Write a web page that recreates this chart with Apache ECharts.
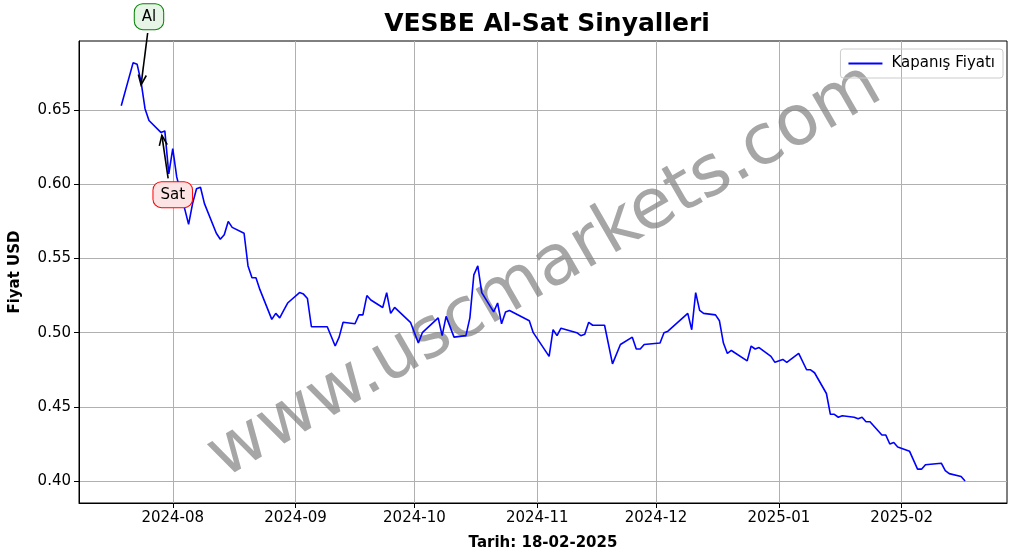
<!DOCTYPE html>
<html>
<head>
<meta charset="utf-8">
<script src="https://cdn.jsdelivr.net/npm/echarts@6/dist/echarts.min.js"></script>
<style>html,body{margin:0;padding:0;background:#fff}#main{width:1017px;height:558px}</style>
</head>
<body>
<div id="main"></div>
<script>
// kapanış fiyatları
var dates = ['2024-07-19','2024-07-22','2024-07-23','2024-07-24','2024-07-25','2024-07-26','2024-07-29','2024-07-30','2024-07-31','2024-08-01','2024-08-02',
  '2024-08-05','2024-08-06','2024-08-07','2024-08-08','2024-08-09','2024-08-12','2024-08-13','2024-08-14','2024-08-15','2024-08-16',
  '2024-08-19','2024-08-20','2024-08-21','2024-08-22','2024-08-23','2024-08-26','2024-08-27','2024-08-28','2024-08-29','2024-08-30',
  '2024-09-02','2024-09-03','2024-09-04','2024-09-05','2024-09-06','2024-09-09','2024-09-11','2024-09-12','2024-09-13','2024-09-16',
  '2024-09-17','2024-09-18','2024-09-19','2024-09-20','2024-09-23','2024-09-24','2024-09-25','2024-09-26','2024-09-30','2024-10-02',
  '2024-10-03','2024-10-07','2024-10-08','2024-10-09','2024-10-11','2024-10-14','2024-10-15','2024-10-16','2024-10-17','2024-10-18',
  '2024-10-21','2024-10-22','2024-10-23','2024-10-24','2024-10-25','2024-10-30','2024-10-31','2024-11-04','2024-11-05','2024-11-06',
  '2024-11-07','2024-11-11','2024-11-12','2024-11-13','2024-11-14','2024-11-15','2024-11-18','2024-11-20','2024-11-22','2024-11-25',
  '2024-11-26','2024-11-27','2024-11-28','2024-12-02','2024-12-03','2024-12-04','2024-12-09','2024-12-10','2024-12-11','2024-12-12',
  '2024-12-13','2024-12-16','2024-12-17','2024-12-18','2024-12-19','2024-12-20','2024-12-24','2024-12-25','2024-12-26','2024-12-27',
  '2024-12-30','2024-12-31','2025-01-02','2025-01-03','2025-01-06','2025-01-08','2025-01-09','2025-01-10','2025-01-13','2025-01-14',
  '2025-01-15','2025-01-16','2025-01-17','2025-01-20','2025-01-21','2025-01-22','2025-01-23','2025-01-24','2025-01-27','2025-01-28',
  '2025-01-29','2025-01-30','2025-01-31','2025-02-03','2025-02-05','2025-02-06','2025-02-07','2025-02-11','2025-02-12','2025-02-13',
  '2025-02-16','2025-02-17'];
var prices = [0.653,0.682,0.681,0.669,0.651,0.643,0.635,0.636,0.607,0.624,0.605,
  0.573,0.587,0.597,0.598,0.587,0.567,0.563,0.566,0.575,0.571,
  0.567,0.545,0.537,0.537,0.529,0.509,0.513,0.510,0.515,0.520,
  0.527,0.526,0.523,0.504,0.504,0.504,0.491,0.497,0.507,0.506,
  0.512,0.512,0.525,0.522,0.517,0.527,0.513,0.517,0.507,0.493,
  0.500,0.510,0.498,0.511,0.497,0.498,0.510,0.539,0.545,0.527,
  0.514,0.520,0.506,0.514,0.515,0.508,0.500,0.484,0.502,0.498,
  0.503,0.500,0.498,0.499,0.507,0.505,0.505,0.479,0.492,0.497,
  0.489,0.489,0.492,0.493,0.500,0.501,0.513,0.502,0.527,0.515,
  0.513,0.512,0.508,0.493,0.486,0.488,0.481,0.491,0.489,0.490,
  0.484,0.480,0.482,0.480,0.486,0.475,0.475,0.473,0.459,0.445,
  0.445,0.443,0.444,0.443,0.442,0.443,0.440,0.440,0.431,0.431,
  0.425,0.426,0.423,0.420,0.408,0.408,0.411,0.412,0.407,0.405,
  0.403,0.400];
var yTicks = [0.40, 0.45, 0.50, 0.55, 0.60, 0.65];
var xTicks = ['2024-08-01','2024-09-01','2024-10-01','2024-11-01','2024-12-01','2025-01-01','2025-02-01'];
// sinyaller: kutu konumu, ok başı, ok ucu
var buySignal = {label: 'Al', box: ['2024-07-26', 0.713], from: ['2024-07-25 16:00', 0.702], to: ['2024-07-24', 0.667],
  fill: '#e6f5e6', stroke: 'green'};
var sellSignal = {label: 'Sat', box: ['2024-08-01', 0.593], from: ['2024-07-30 20:00', 0.604], to: ['2024-07-29 06:00', 0.633],
  fill: '#fde4e4', stroke: 'red'};

var chart = echarts.init(document.getElementById('main'));
var font = 'DejaVu Sans';
var ts = function (d) { return new Date(d.replace(' ', 'T') + (d.length > 10 ? ':00Z' : 'T00:00:00Z')).getTime(); };

var option = {
  animation: false,
  textStyle: {fontFamily: font},
  title: {
    text: 'VESBE Al-Sat Sinyalleri', left: 542, top: 7, textAlign: 'center',
    textStyle: {fontFamily: font, fontSize: 25, fontWeight: 'bold', color: '#000'}
  },
  legend: {
    right: 14, top: 49, itemWidth: 34, itemHeight: 2, itemGap: 8, padding: [7, 8],
    borderColor: '#ccc', borderWidth: 1, borderRadius: 3,
    icon: 'rect',
    textStyle: {fontFamily: font, fontSize: 15, color: '#000', padding: [0, 0, 0, 4]},
    data: ['Kapanış Fiyatı']
  },
  grid: {left: 77, right: 10, top: 41, bottom: 55, show: true, borderColor: '#000', borderWidth: 1},
  xAxis: {
    type: 'value',
    min: ts('2024-07-08 08:00'), max: ts('2025-02-27 14:00'),
    name: 'Tarih: 18-02-2025', nameLocation: 'middle', nameGap: 33,
    nameTextStyle: {fontFamily: font, fontSize: 15, fontWeight: 'bold', color: '#000'},
    axisLine: {lineStyle: {color: '#000'}},
    axisTick: {show: true, length: 5, lineStyle: {color: '#000'}, customValues: xTicks.map(ts)},
    axisLabel: {
      color: '#000', fontSize: 15, fontFamily: font, margin: 8,
      customValues: xTicks.map(ts),
      formatter: function (v) { var d = new Date(v); return d.getUTCFullYear() + '-' + String(d.getUTCMonth() + 1).padStart(2, '0'); }
    },
    splitLine: {show: true, lineStyle: {color: '#b0b0b0', width: 1}}
  },
  yAxis: {
    type: 'value', min: 0.3852, max: 0.6966,
    name: 'Fiyat USD', nameLocation: 'middle', nameGap: 56, nameRotate: 90,
    nameTextStyle: {fontFamily: font, fontSize: 15, fontWeight: 'bold', color: '#000'},
    axisLine: {show: true, lineStyle: {color: '#000'}},
    axisTick: {show: true, length: 5, lineStyle: {color: '#000'}, customValues: yTicks},
    axisLabel: {color: '#000', fontSize: 15, fontFamily: font, customValues: yTicks,
      formatter: function (v) { return v.toFixed(2); }},
    splitLine: {show: true, lineStyle: {color: '#b0b0b0', width: 1}}
  },
  series: [{
    name: 'Kapanış Fiyatı', type: 'line', showSymbol: false, symbol: 'none', z: 3,
    lineStyle: {color: '#0000ff', width: 1.6}, itemStyle: {color: '#0000ff'},
    data: dates.map(function (d, i) { return [ts(d), prices[i]]; })
  }]
};
chart.setOption(option);

// sinyal kutuları ve oklar (grafiğin dışına taşabildiği için graphic ile)
function px(p) { return chart.convertToPixel({gridIndex: 0}, [ts(p[0]), p[1]]); }
function signalGraphics(s) {
  var a = px(s.from), b = px(s.to), c = px(s.box);
  var ang = Math.atan2(b[1] - a[1], b[0] - a[0]), L = 10, W = 4;
  var bx = b[0] - L * Math.cos(ang), by = b[1] - L * Math.sin(ang);
  return [
    {type: 'line', shape: {x1: a[0], y1: a[1], x2: b[0], y2: b[1]}, style: {stroke: '#000', lineWidth: 1.6}, z: 10},
    {type: 'polyline', shape: {points: [[bx - W * Math.sin(ang), by + W * Math.cos(ang)], [b[0], b[1]], [bx + W * Math.sin(ang), by - W * Math.cos(ang)]]},
      style: {stroke: '#000', lineWidth: 1.6, fill: null}, z: 10},
    {type: 'text', x: c[0], y: c[1], z: 11,
      style: {text: s.label, fontSize: 15, fontFamily: font, fill: '#000', align: 'center', verticalAlign: 'middle',
        backgroundColor: s.fill, borderColor: s.stroke, borderWidth: 1, borderRadius: 8, padding: [5, 7]}}
  ];
}
chart.setOption({
  graphic: [{
    type: 'text', x: 545, y: 272, rotation: Math.PI / 6, z: 1,
    style: {text: 'www.uscmarkets.com', fontSize: 70, fontFamily: font, fill: 'rgba(128,128,128,0.7)', align: 'center', verticalAlign: 'middle'}
  }].concat(signalGraphics(buySignal), signalGraphics(sellSignal))
});
</script>
</body>
</html>
